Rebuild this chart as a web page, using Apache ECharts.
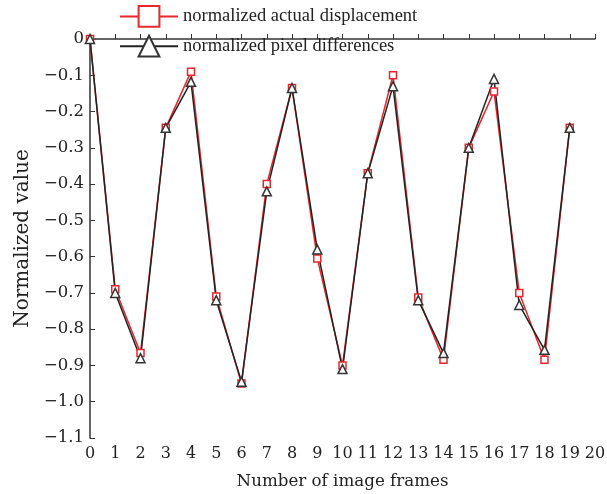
<!DOCTYPE html>
<html>
<head>
<meta charset="utf-8">
<script src="https://cdn.jsdelivr.net/npm/echarts@6/dist/echarts.min.js"></script>
<style>
  html, body { margin: 0; padding: 0; background: #fff; }
  #chart { width: 607px; height: 494px; }
</style>
</head>
<body>
<div id="chart"></div>
<script>
// frames 0..19
const frames = [0, 1, 2, 3, 4, 5, 6, 7, 8, 9, 10, 11, 12, 13, 14, 15, 16, 17, 18, 19];
const actualDisp = [0, -0.69, -0.866, -0.245, -0.09, -0.71, -0.95, -0.40, -0.135, -0.605,
	-0.90, -0.37, -0.10, -0.713, -0.884, -0.30, -0.145, -0.70, -0.884, -0.245];
const pixelDiff = [0, -0.70, -0.88, -0.245, -0.118, -0.72, -0.945, -0.42, -0.135, -0.58,
	-0.91, -0.37, -0.13, -0.72, -0.866, -0.30, -0.11, -0.733, -0.857, -0.245];

const legendFont = 'Liberation Serif';
const axisFont = 'DejaVu Serif';

const chart = echarts.init(document.getElementById('chart'));

const option = {
	animation: false,
	legend: {
		orient: 'vertical',
		left: 114,
		top: 0,
		itemWidth: 58,
		itemHeight: 26,
		itemGap: 7,
		textStyle: { fontFamily: legendFont, fontSize: 18.5, color: '#222' },
		data: ['normalized actual displacement', 'normalized pixel differences']
	},
	grid: { left: 90, right: 12, top: 39, bottom: 56, outerBoundsMode: 'none' },
	xAxis: {
		type: 'value',
		min: 0,
		max: 20,
		interval: 1,
		name: 'Number of image frames',
		nameLocation: 'middle',
		nameGap: 35,
		nameTextStyle: { fontFamily: axisFont, fontSize: 16.7, color: '#222' },
		axisLine: { lineStyle: { color: '#333', width: 1.5 } },
		axisTick: { inside: true, length: 5, lineStyle: { color: '#333' } },
		axisLabel: { fontFamily: axisFont, fontSize: 16, color: '#222', margin: 8 },
		splitLine: { show: false }
	},
	yAxis: {
		type: 'value',
		min: -1.1,
		max: 0,
		interval: 0.1,
		name: 'Normalized value',
		nameLocation: 'middle',
		nameGap: 57,
		nameTextStyle: { fontFamily: axisFont, fontSize: 20, color: '#222' },
		axisLine: { lineStyle: { color: '#333', width: 1.5 } },
		axisTick: { inside: true, length: 5, lineStyle: { color: '#333' } },
		axisLabel: {
			fontFamily: axisFont, fontSize: 16.5, color: '#222', margin: 6,
			formatter: v => Math.abs(v) < 1e-9 ? '0' : '\u2212' + Math.abs(v).toFixed(1)
		},
		splitLine: { show: false }
	},
	series: [
		{
			name: 'normalized actual displacement',
			type: 'line',
			clip: false,
			data: frames.map((f, i) => [f, actualDisp[i]]),
			symbol: 'rect',
			symbolSize: 7,
			lineStyle: { color: '#e8272d', width: 1.5 },
			itemStyle: { color: '#fff', borderColor: '#e8272d', borderWidth: 1.5 }
		},
		{
			name: 'normalized pixel differences',
			type: 'line',
			clip: false,
			data: frames.map((f, i) => [f, pixelDiff[i]]),
			symbol: 'triangle',
			symbolSize: 9,
			lineStyle: { color: '#222', width: 1.5 },
			itemStyle: { color: '#fff', borderColor: '#333', borderWidth: 1.5 }
		}
	]
};

chart.setOption(option);
</script>
</body>
</html>
